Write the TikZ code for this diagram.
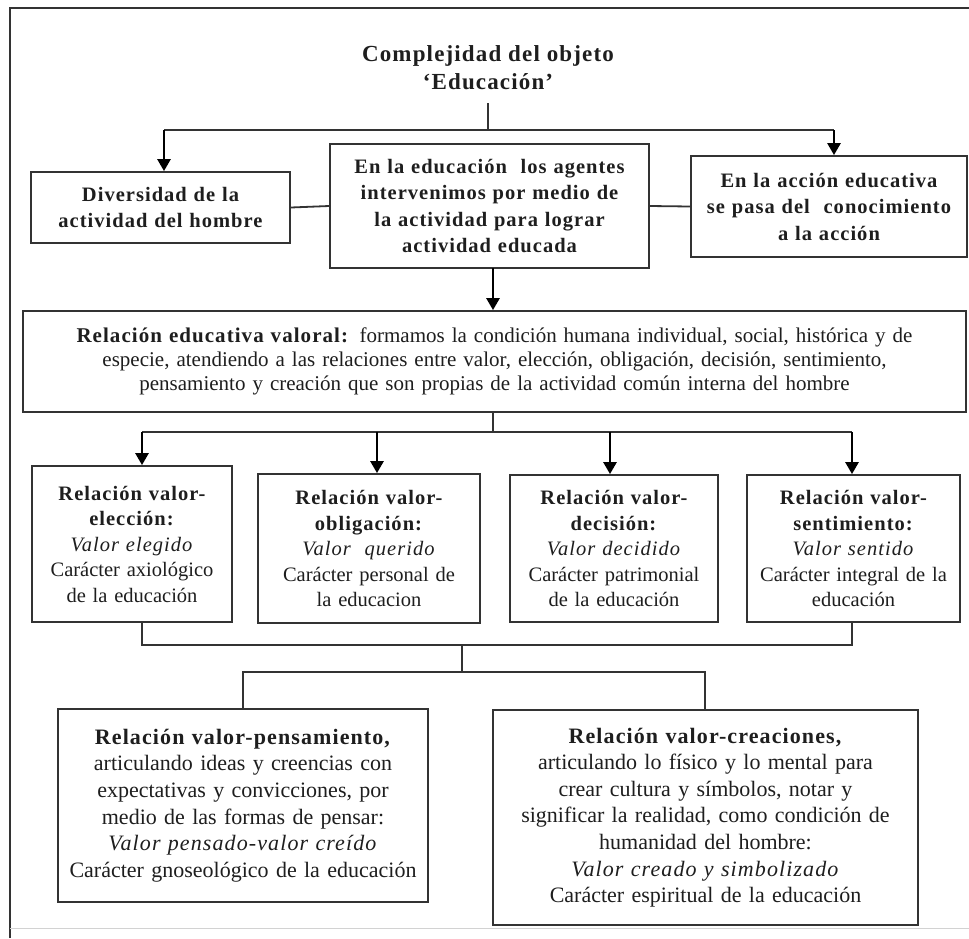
\documentclass[tikz,border=0pt]{standalone}
\usepackage{fontspec}
\setmainfont{Liberation Serif}[BoldFeatures={LetterSpace=5},ItalicFeatures={LetterSpace=5}]
\usetikzlibrary{arrows.meta,calc}
\definecolor{ink}{HTML}{1E1E1E}
\definecolor{edge}{HTML}{333333}

\begin{document}
\begin{tikzpicture}[x=1pt,y=-1pt,
  box/.style={draw=edge, line width=1.8pt, fill=white, inner sep=0pt,
              align=center, text=ink},
  link/.style={draw=edge, line width=1.8pt},
  thinlink/.style={draw=edge, line width=1.2pt},
  arr/.style={draw=black, line width=2.6pt, -{Triangle[length=12pt,width=13pt]}},
  fTitle/.style={font=\fontsize{23}{28}\selectfont\bfseries},
  fTop/.style={font=\fontsize{20.5}{26.5}\selectfont\bfseries},
  fRel/.style={font=\fontsize{21}{24}\selectfont},
  fMid/.style={font=\fontsize{20.5}{25.5}\selectfont},
  fLow/.style={font=\fontsize{22}{26.6}\selectfont}]

\useasboundingbox (0,0) rectangle (969,938);

% page frame
\draw[edge, line width=2.6pt] (10,938) -- (10,8) -- (969,8);
\draw[gray!35, line width=1pt] (10,928) -- (969,928);

% title
\node[fTitle, align=center, text=ink] (title) at (488,68)
  {Complejidad del objeto\\‘Educación’};

% first row
\node[box, fTop, minimum width=259pt, minimum height=71pt, text width=250pt]
  (div) at (160.5,207.5) {Diversidad de la\\actividad del hombre};
\node[box, fTop, minimum width=319pt, minimum height=124pt, text width=310pt]
  (edu) at (489.5,206) {En la educación\ \ los agentes\\intervenimos por medio de\\la actividad para lograr\\actividad educada};
\node[box, fTop, minimum width=276pt, minimum height=101pt, text width=270pt]
  (acc) at (829,206.5) {En la acción educativa\\se pasa del\ \ conocimiento\\a la acción};

% relation box
\node[box, fRel, minimum width=943pt, minimum height=101pt, text width=930pt]
  (rel) at (494.5,361.5)
  {\textbf{Relación educativa valoral:} formamos la condición humana individual, social, histórica y de\\
   especie, atendiendo a las relaciones entre valor, elección, obligación, decisión, sentimiento,\\
   pensamiento y creación que son propias de la actividad común interna del hombre};

% four relations
\node[box, fMid, minimum width=200pt, minimum height=156pt, text width=196pt]
  (b1) at (132,544) {\textbf{Relación valor-}\\\textbf{elección:}\\\textit{Valor elegido}\\Carácter axiológico\\de la educación};
\node[box, fMid, minimum width=222pt, minimum height=149pt, text width=218pt]
  (b2) at (369,548.5) {\textbf{Relación valor-}\\\textbf{obligación:}\\\textit{Valor\ \ querido}\\Carácter personal de\\la educacion};
\node[box, fMid, minimum width=208pt, minimum height=147pt, text width=204pt]
  (b3) at (614,548.5) {\textbf{Relación valor-}\\\textbf{decisión:}\\\textit{Valor decidido}\\Carácter patrimonial\\de la educación};
\node[box, fMid, minimum width=213pt, minimum height=147pt, text width=209pt]
  (b4) at (853.5,548.5) {\textbf{Relación valor-}\\\textbf{sentimiento:}\\\textit{Valor sentido}\\Carácter integral de la\\educación};

% lower relations
\node[box, fLow, minimum width=370pt, minimum height=193pt, text width=364pt]
  (pen) at (243,805.5) {\textbf{Relación valor-pensamiento,}\\articulando ideas y creencias con\\expectativas y convicciones, por\\medio de las formas de pensar:\\\textit{Valor pensado-valor creído}\\Carácter gnoseológico de la educación};
\node[box, fLow, minimum width=425pt, minimum height=215pt, text width=419pt]
  (cre) at (705.5,817.5) {\textbf{Relación valor-creaciones,}\\articulando lo físico y lo mental para\\crear cultura y símbolos, notar y\\significar la realidad, como condición de\\humanidad del hombre:\\\textit{Valor creado y simbolizado}\\Carácter espiritual de la educación};

% title to first row
\coordinate (t0) at (488,103);
\coordinate (t1) at (488,130);
\coordinate (hl) at (164,130);
\coordinate (hr) at (834,130);
\draw[thinlink] (t0) -- (t1);
\draw[link] (hl) -- (hr);
\draw[arr] (hl) -- (hl |- div.north);
\draw[arr] (hr) -- (hr |- acc.north);
\draw[link] (div.east) -- (edu.west);
\draw[link] (edu.east) -- (acc.west);

% first row to relation box
\coordinate (e0) at (493,268);
\draw[arr] (e0) -- (e0 |- rel.north);

% relation box to four relations
\coordinate (r1) at (493,432);
\coordinate (a1) at (142,432);
\coordinate (a2) at (377,432);
\coordinate (a3) at (610,432);
\coordinate (a4) at (852,432);
\draw[thinlink] (r1 |- rel.south) -- (r1);
\draw[link] (a1) -- (a4);
\draw[arr] (a1) -- (a1 |- b1.north);
\draw[arr] (a2) -- (a2 |- b2.north);
\draw[arr] (a3) -- (a3 |- b3.north);
\draw[arr] (a4) -- (a4 |- b4.north);

% four relations to lower relations
\coordinate (m1) at (142,645);
\coordinate (m4) at (852,645);
\coordinate (mc) at (462,645);
\coordinate (n0) at (462,672);
\coordinate (nl) at (243,672);
\coordinate (nr) at (705,672);
\draw[link] (m1 |- b1.south) -- (m1) -- (m4) -- (m4 |- b4.south);
\draw[link] (mc) -- (n0);
\draw[link] (nl |- pen.north) -- (nl) -- (nr) -- (nr |- cre.north);
\end{tikzpicture}
\end{document}
